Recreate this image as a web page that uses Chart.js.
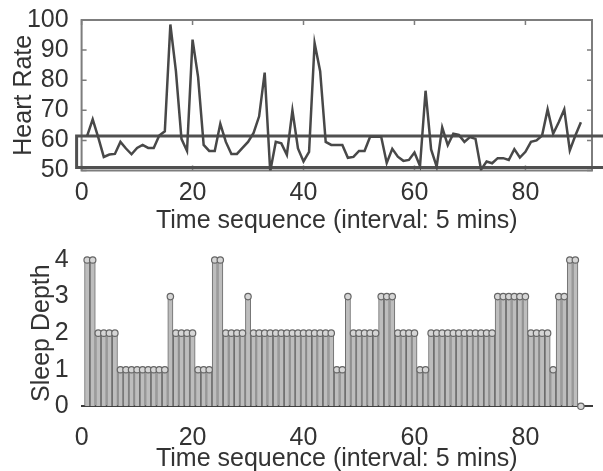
<!DOCTYPE html>
<html>
<head>
<meta charset="utf-8">
<script src="https://cdn.jsdelivr.net/npm/chart.js@4.4.1/dist/chart.umd.min.js"></script>
<style>
  html, body { margin: 0; padding: 0; background: #fff; overflow: hidden; }
  #wrap { position: relative; width: 603px; height: 471px; overflow: hidden; }
  canvas { position: absolute; left: 0; }
  #hrChart { top: 0; }
  #sleepChart { top: 240px; }
</style>
</head>
<body>
<div id="wrap">
  <canvas id="hrChart" width="603" height="240"></canvas>
  <canvas id="sleepChart" width="603" height="240"></canvas>
</div>
<script>
// heart rate per 5 min epoch, epochs 1..90
const heartRate = [
  61.5, 67, 61, 54.5, 55.3, 55.5, 59.5, 57.3, 55.4, 57.5,
  58.5, 57.5, 57.5, 61.6, 63, 98.5, 83, 60.5, 56.5, 93.5,
  81, 58.5, 56.5, 56.5, 65.5, 59.5, 55.5, 55.5, 57.5, 59.5,
  62.5, 68, 82.5, 49.7, 59.5, 59, 55.2, 70, 57.3, 53,
  56.2, 92.3, 83, 59.5, 58.5, 58.5, 58.5, 54.2, 54.5, 56.5,
  56.5, 61.2, 61.2, 61.2, 52.5, 57.2, 54.6, 53.2, 53.5, 56,
  51.5, 76.5, 57, 51.3, 64.3, 58.4, 62.2, 61.8, 59.5, 61.1,
  60.5, 50.3, 53, 52.4, 54.1, 54.1, 53.5, 57.1, 54.3, 56.2,
  59.5, 60, 61.6, 70.3, 62.2, 66, 70.3, 56.7, 61.6, 66
];

// sleep depth per epoch, epochs 1..90
const sleepDepth = [
  4, 4, 2, 2, 2, 2, 1, 1, 1, 1,
  1, 1, 1, 1, 1, 3, 2, 2, 2, 2,
  1, 1, 1, 4, 4, 2, 2, 2, 2, 3,
  2, 2, 2, 2, 2, 2, 2, 2, 2, 2,
  2, 2, 2, 2, 2, 1, 1, 3, 2, 2,
  2, 2, 2, 3, 3, 3, 2, 2, 2, 2,
  1, 1, 2, 2, 2, 2, 2, 2, 2, 2,
  2, 2, 2, 2, 3, 3, 3, 3, 3, 3,
  2, 2, 2, 2, 1, 3, 3, 4, 4, 0
];

const timeTicks = [0, 20, 40, 60, 80];
const hrTicks = [50, 60, 70, 80, 90, 100];
const depthTicks = [0, 1, 2, 3, 4];

// reference range box over the heart rate trace
const hrBandLow = 51;
const hrBandHigh = 61.5;
const hrBandFrom = -0.9;
const hrBandTo = 94;

const timeTitle = 'Time sequence (interval: 5 mins)';
const hrTitle = 'Heart Rate';
const depthTitle = 'Sleep Depth';

const fontFam = '"Liberation Sans", Arial, Helvetica, sans-serif';
const txtColor = '#333';
const bigFont = { family: fontFam, size: 25 };

let setTicks = (list) => (scale) => {
  scale.ticks = list.map(v => ({ value: v }));
};

// matlab style axes box with inward tick marks
const axesBox = {
  id: 'axesBox',
  beforeDatasetsDraw(chart) {
    let { ctx, chartArea: a, scales } = chart;
    ctx.save();
    ctx.strokeStyle = '#7d7d7d';
    ctx.lineWidth = 2;
    ctx.strokeRect(a.left, a.top, a.right - a.left, a.bottom - a.top);
    ctx.lineWidth = 1.5;
    ctx.beginPath();
    timeTicks.forEach(v => {
      let px = scales.x.getPixelForValue(v);
      ctx.moveTo(px, a.top); ctx.lineTo(px, a.top + 5);
      ctx.moveTo(px, a.bottom); ctx.lineTo(px, a.bottom - 5);
    });
    hrTicks.forEach(v => {
      let py = scales.y.getPixelForValue(v);
      ctx.moveTo(a.left, py); ctx.lineTo(a.left + 5, py);
      ctx.moveTo(a.right, py); ctx.lineTo(a.right - 5, py);
    });
    ctx.stroke();
    ctx.restore();
  }
};

let hrPoints = heartRate.map((v, i) => ({ x: i + 1, y: v }));
let bandPath = [
  { x: hrBandTo, y: hrBandHigh },
  { x: hrBandFrom, y: hrBandHigh },
  { x: hrBandFrom, y: hrBandLow },
  { x: hrBandTo, y: hrBandLow }
];

new Chart(document.getElementById('hrChart'), {
  type: 'line',
  data: {
    datasets: [
      { data: hrPoints, borderColor: '#484848', borderWidth: 2.5, pointRadius: 0, tension: 0 },
      { data: bandPath, borderColor: '#505050', borderWidth: 3, pointRadius: 0, clip: false }
    ]
  },
  options: {
    responsive: false,
    animation: false,
    events: [],
    layout: { padding: { top: 16.3, right: 11, left: 0, bottom: 0 } },
    plugins: { legend: { display: false }, tooltip: { enabled: false } },
    scales: {
      x: {
        type: 'linear', min: 0, max: 92,
        afterFit: (s) => { s.height = 69.5; },
        afterBuildTicks: setTicks(timeTicks),
        grid: { display: false },
        border: { display: false },
        ticks: { padding: 0, autoSkip: false, color: txtColor, font: bigFont, maxRotation: 0 },
        title: { display: true, text: timeTitle, color: txtColor, font: bigFont, padding: { bottom: 3.6, top: 0 } }
      },
      y: {
        type: 'linear', min: 50, max: 100,
        afterFit: (s) => { s.width = 81.6; },
        afterBuildTicks: setTicks(hrTicks),
        grid: { display: false },
        border: { display: false },
        ticks: { padding: 5, autoSkip: false, color: txtColor, font: bigFont },
        title: { display: true, text: hrTitle, color: txtColor, font: bigFont, padding: { top: 9.5, bottom: 0 } }
      }
    }
  },
  plugins: [axesBox]
});

let depthPoints = sleepDepth.map((v, i) => ({ x: i + 1, y: v }));

new Chart(document.getElementById('sleepChart'), {
  type: 'bar',
  data: {
    datasets: [
      {
        type: 'line', data: depthPoints, showLine: false, order: 0, clip: false,
        pointRadius: 3.2, pointBackgroundColor: '#d6d6d6', pointBorderColor: '#666', pointBorderWidth: 1.2
      },
      {
        type: 'bar', data: depthPoints, order: 1,
        backgroundColor: '#bdbdbd', borderColor: '#6c6c6c',
        borderWidth: { left: 1, right: 1, top: 0, bottom: 0 },
        barThickness: 5.2
      }
    ]
  },
  options: {
    responsive: false,
    animation: false,
    events: [],
    layout: { padding: { top: 10.3, right: 11, left: 0, bottom: 0 } },
    plugins: { legend: { display: false }, tooltip: { enabled: false } },
    scales: {
      x: {
        type: 'linear', min: 0, max: 92, offset: false,
        afterFit: (s) => { s.height = 73.7; },
        afterBuildTicks: setTicks(timeTicks),
        grid: { display: false, offset: false },
        border: { display: true, color: '#3c3c3c', width: 2 },
        ticks: { padding: 9, autoSkip: false, color: txtColor, font: bigFont, maxRotation: 0 },
        title: { display: true, text: timeTitle, color: txtColor, font: bigFont, padding: { bottom: 6.2, top: 0 } }
      },
      y: {
        type: 'linear', min: 0, max: 4,
        afterFit: (s) => { s.width = 81.6; },
        afterBuildTicks: setTicks(depthTicks),
        grid: { display: false },
        border: { display: false },
        ticks: { padding: 5, autoSkip: false, color: txtColor, font: bigFont },
        title: { display: true, text: depthTitle, color: txtColor, font: bigFont, padding: { top: 27, bottom: 0 } }
      }
    }
  }
});
</script>
</body>
</html>
